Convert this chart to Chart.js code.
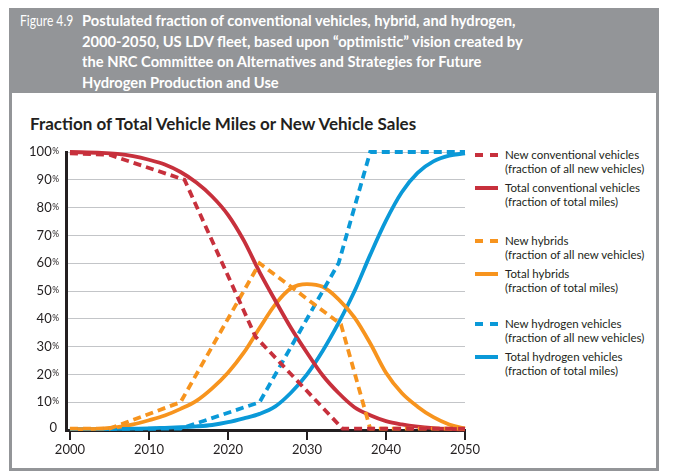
<!DOCTYPE html>
<html lang="en">
<head>
<meta charset="UTF-8">
<title>Figure 4.9</title>
<script src="https://cdn.jsdelivr.net/npm/chart.js"></script>
<style>
  body { margin: 0; width: 674px; height: 475px; background: #fff; position: relative; overflow: hidden; font-family: Lato, "Open Sans", sans-serif; color: #231f20; }
  .frame { position: absolute; left: 9px; top: 8px; width: 644px; height: 457px; border: 3px solid #939598; }
  .head { position: absolute; left: 0; top: 0; width: 644px; height: 82px; background: #939598; }
  .fig { position: absolute; left: 20px; top: 10px; color: #fff; font-size: 15.5px; line-height: 20.5px; white-space: nowrap; transform: scaleX(0.78); transform-origin: 0 0; }
  .caption { position: absolute; left: 82px; top: 10px; color: #fff; font-size: 15.5px; font-weight: 700; line-height: 20.5px; white-space: nowrap; transform: scaleX(0.948); transform-origin: 0 0; }
  .subtitle { position: absolute; left: 30px; top: 113px; font-size: 17px; font-weight: 700; white-space: nowrap; }
  #legend { position: absolute; left: 475px; top: 148px; font-size: 11.5px; line-height: 14px; }
  .item { position: relative; height: 28px; padding-left: 30px; margin-bottom: 5px; white-space: nowrap; }
  .item.gap1 { margin-bottom: 25px; }
  .item.gap2 { margin-bottom: 22px; }
  .sw { position: absolute; left: 0; top: 5px; width: 23px; height: 4px; }
  .sw span { position: absolute; top: 0; width: 8px; height: 4px; }
  canvas { position: absolute; left: 0; top: 0; }
</style>
</head>
<body>
<div class="frame"><div class="head"></div></div>
<div class="fig">Figure 4.9</div>
<div class="caption">Postulated fraction of conventional vehicles, hybrid, and hydrogen,<br>2000-2050, US LDV fleet, based upon “optimistic” vision created by<br>the NRC Committee on Alternatives and Strategies for Future<br>Hydrogen Production and Use</div>
<div class="subtitle">Fraction of Total Vehicle Miles or New Vehicle Sales</div>
<div id="legend"></div>
<canvas id="chart" width="674" height="475"></canvas>
<script>
// solid curves (fraction of total miles)
const years = [2000, 2004, 2006, 2008, 2010, 2012, 2014, 2016, 2018, 2020, 2022, 2024, 2026, 2028, 2030, 2032, 2034, 2036, 2038, 2040, 2042, 2044, 2046, 2048, 2050];
const totalConventional = [100, 99.7, 99.3, 98.5, 97.2, 95.5, 92.8, 89, 84, 77.4, 68.2, 56.8, 46.5, 36.6, 27.8, 19.6, 13.3, 8.2, 5.3, 3.2, 2, 1.2, 0.7, 0.4, 0.2];
const totalHybrid = [0.3, 0.5, 1, 2, 3.5, 5.2, 7.6, 10.5, 15, 20.6, 27.8, 36.7, 45.2, 51, 52.5, 51.5, 47, 40.5, 31.2, 20.6, 13.3, 8.4, 4.6, 2, 0.5];
const totalHydrogen = [0.3, 0.3, 0.4, 0.5, 0.6, 0.8, 1, 1.3, 1.8, 2.8, 4.2, 5.8, 8.5, 13.5, 20, 28.5, 38.5, 49.8, 63, 75.3, 85.5, 92.5, 96.6, 98.7, 99.5];

// dashed curves (fraction of new vehicle sales)
const newConvYears = [2000, 2005, 2014.5, 2023.5, 2034.5, 2050];
const newConventional = [99.5, 99, 90, 33.5, 0.5, 0.5];
const newHybridYears = [2000, 2005, 2014, 2024, 2034.3, 2038, 2050];
const newHybrid = [0.5, 0.5, 10, 60, 38, 0.5, 0.5];
const newHydrogenYears = [2000, 2014, 2024, 2034, 2038, 2050];
const newHydrogen = [0.3, 0.5, 10, 60, 100, 100];

const xTicks = [2000, 2010, 2020, 2030, 2040, 2050];
const yTicks = [0, 10, 20, 30, 40, 50, 60, 70, 80, 90, 100];
const yTickLabels = ['0', '10%', '20%', '30%', '40%', '50%', '60%', '70%', '80%', '90%', '100%'];

const seriesNames = ['New conventional vehicles', 'Total conventional vehicles', 'New hybrids', 'Total hybrids', 'New hydrogen vehicles', 'Total hydrogen vehicles'];
const seriesNotes = ['(fraction of all new vehicles)', '(fraction of total miles)', '(fraction of all new vehicles)', '(fraction of total miles)', '(fraction of all new vehicles)', '(fraction of total miles)'];

const RED = '#c7303c', ORANGE = '#f7941e', BLUE = '#0a99d8';
const FONT = 'Lato, "Open Sans", sans-serif';

function pts(xs, ys) {
    return xs.map((x, i) => ({ x: x, y: ys[i] }));
}

function line(label, xs, ys, color, dashed) {
    return {
        label: label,
        data: pts(xs, ys),
        borderColor: color,
        borderWidth: 3.8,
        borderDash: dashed ? [8, 5] : [],
        pointRadius: 0,
        fill: false,
        cubicInterpolationMode: dashed ? 'default' : 'monotone',
        tension: 0,
        clip: false
    };
}

const datasets = [
    line(seriesNames[0], newConvYears, newConventional, RED, true),
    line(seriesNames[2], newHybridYears, newHybrid, ORANGE, true),
    line(seriesNames[4], newHydrogenYears, newHydrogen, BLUE, true),
    line(seriesNames[1], years, totalConventional, RED, false),
    line(seriesNames[3], years, totalHybrid, ORANGE, false),
    line(seriesNames[5], years, totalHydrogen, BLUE, false)
];

// y labels with the small raised percent sign
const yLabels = {
    id: 'yLabels',
    afterDraw(chart) {
        const ctx = chart.ctx;
        const y = chart.scales.y;
        ctx.save();
        ctx.fillStyle = '#231f20';
        ctx.textAlign = 'right';
        yTicks.forEach((v, i) => {
            const py = y.getPixelForValue(v);
            let txt = yTickLabels[i];
            let right = 59;
            if (txt.endsWith('%')) {
                ctx.font = '8.5px ' + FONT;
                ctx.textBaseline = 'top';
                ctx.fillText('%', right, py - 5);
                right -= ctx.measureText('%').width + 0.5;
                txt = txt.slice(0, -1);
            } else {
                right = 57;
            }
            ctx.font = '13px ' + FONT;
            ctx.textBaseline = 'middle';
            ctx.fillText(txt, right, v === 0 ? py - 2 : py);
        });
        ctx.restore();
    }
};

new Chart(document.getElementById('chart'), {
    type: 'line',
    data: { datasets: datasets },
    options: {
        responsive: false,
        animation: false,
        devicePixelRatio: 1,
        layout: { padding: { left: 0, top: 152, right: 209, bottom: 0 } },
        plugins: { legend: { display: false }, tooltip: { enabled: false } },
        scales: {
            x: {
                type: 'linear',
                min: 1999.5,
                max: 2050,
                afterBuildTicks: s => { s.ticks = xTicks.map(v => ({ value: v })); },
                afterFit: s => { s.height = 45; },
                grid: { drawOnChartArea: false, drawTicks: true, tickLength: 10, color: '#231f20', lineWidth: 2 },
                border: { color: '#231f20', width: 3 },
                ticks: { font: { family: FONT, size: 13 }, color: '#231f20', padding: 2, maxRotation: 0, callback: v => String(v) }
            },
            y: {
                min: 0,
                max: 100,
                afterBuildTicks: s => { s.ticks = yTicks.map(v => ({ value: v })); },
                afterFit: s => { s.width = 66; },
                grid: { color: '#c3c5c8', lineWidth: 1, drawTicks: false },
                border: { color: '#231f20', width: 3 },
                ticks: { display: false }
            }
        }
    },
    plugins: [yLabels]
});

// legend, built from the series lists
const legendColors = [RED, RED, ORANGE, ORANGE, BLUE, BLUE];
const legend = document.getElementById('legend');
seriesNames.forEach((name, i) => {
    const item = document.createElement('div');
    item.className = 'item' + (i === 1 ? ' gap1' : i === 3 ? ' gap2' : '');
    const sw = document.createElement('div');
    sw.className = 'sw';
    if (i % 2 === 0) {
        sw.innerHTML = '<span style="left:0;background:' + legendColors[i] + '"></span><span style="left:15px;background:' + legendColors[i] + '"></span>';
    } else {
        sw.style.background = legendColors[i];
    }
    item.appendChild(sw);
    item.appendChild(document.createTextNode(name));
    item.appendChild(document.createElement('br'));
    item.appendChild(document.createTextNode(seriesNotes[i]));
    legend.appendChild(item);
});
</script>
</body>
</html>
